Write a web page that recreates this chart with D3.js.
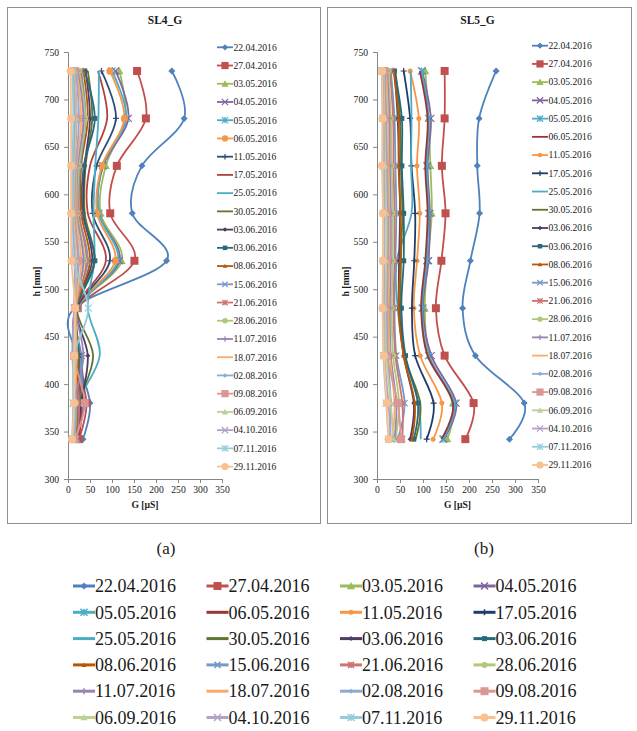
<!DOCTYPE html>
<html lang="en">
<head>
<meta charset="UTF-8">
<title>SL4_G / SL5_G</title>
<style>
  body { margin: 0; background: #fff; }
  svg text { font-family: "Liberation Serif", "DejaVu Serif", serif; fill: #1a1a1a; }
</style>
</head>
<body>
<script src="https://d3js.org/d3.v7.min.js"></script>
<script>
// heights of the measuring points [mm]
const heights = [730, 680, 630, 580, 530, 480, 430, 380, 342];

const dates = ['22.04.2016', '27.04.2016', '03.05.2016', '04.05.2016', '05.05.2016', '06.05.2016',
  '11.05.2016', '17.05.2016', '25.05.2016', '30.05.2016', '03.06.2016', '03.06.2016',
  '08.06.2016', '15.06.2016', '21.06.2016', '28.06.2016', '11.07.2016', '18.07.2016',
  '02.08.2016', '09.08.2016', '06.09.2016', '04.10.2016', '07.11.2016', '29.11.2016'];

// SL4 conductance G [µS], one row per date, values in order of heights
const sl4G = [
  [236, 264, 168, 146, 224, 14, 20, 50, 34],
  [157, 177, 111, 96, 151, 22, 20, 42, 25],
  [117, 130, 86, 74, 122, 20, 25, 30, 20],
  [108, 137, 80, 70, 117, 20, 30, 35, 22],
  [100, 132, 78, 70, 113, 22, 28, 32, 20],
  [95, 128, 77, 66, 107, 20, 22, 28, 18],
  [76, 109, 65, 56, 95, 20, 18, 25, 18],
  [68, 89, 50, 45, 86, 18, 20, 30, 25],
  [70, 69, 62, 58, 60, 45, 72, 22, 20],
  [45, 55, 40, 38, 60, 20, 57, 25, 22],
  [40, 50, 38, 35, 55, 18, 45, 30, 20],
  [38, 61, 36, 33, 61, 20, 25, 22, 18],
  [35, 45, 30, 30, 50, 18, 22, 22, 18],
  [30, 40, 28, 25, 45, 15, 15, 20, 15],
  [28, 38, 25, 25, 42, 18, 12, 25, 20],
  [25, 39, 25, 22, 37, 16, 15, 18, 15],
  [22, 35, 22, 20, 35, 18, 35, 15, 14],
  [20, 30, 20, 18, 30, 18, 20, 15, 12],
  [18, 25, 18, 15, 25, 14, 10, 18, 14],
  [15, 20, 15, 14, 22, 16, 14, 38, 15],
  [14, 18, 14, 12, 18, 16, 16, 14, 12],
  [12, 15, 12, 10, 15, 14, 14, 12, 10],
  [10, 12, 10, 9, 12, 46, 14, 12, 10],
  [6, 7, 7, 7, 8, 16, 14, 14, 9]
];

// SL5 conductance G [µS]
const sl5G = [
  [259, 222, 218, 223, 203, 186, 214, 320, 288],
  [147, 147, 141, 149, 140, 128, 147, 210, 192],
  [105, 112, 116, 119, 110, 104, 114, 165, 153],
  [98, 117, 110, 115, 112, 100, 118, 172, 145],
  [97, 112, 108, 112, 108, 98, 112, 168, 143],
  [93, 110, 105, 110, 105, 96, 110, 165, 140],
  [72, 91, 87, 93, 87, 80, 94, 141, 122],
  [58, 72, 75, 83, 81, 76, 83, 123, 108],
  [73, 75, 74, 75, 43, 45, 60, 90, 95],
  [40, 50, 52, 55, 52, 52, 60, 94, 84],
  [38, 45, 48, 50, 48, 48, 58, 80, 72],
  [38, 54, 54, 58, 58, 53, 62, 89, 80],
  [36, 47, 47, 51, 51, 47, 58, 82, 76],
  [30, 38, 40, 42, 40, 38, 42, 60, 45],
  [28, 35, 36, 38, 38, 36, 40, 55, 55],
  [25, 30, 32, 34, 34, 32, 35, 48, 40],
  [22, 27, 28, 30, 30, 28, 30, 42, 38],
  [20, 24, 25, 27, 27, 25, 28, 38, 34],
  [18, 20, 22, 24, 24, 22, 24, 30, 28],
  [16, 18, 20, 21, 22, 20, 22, 45, 52],
  [14, 16, 18, 20, 20, 18, 20, 30, 36],
  [12, 14, 15, 16, 16, 15, 16, 25, 30],
  [10, 12, 13, 14, 14, 13, 14, 20, 25],
  [11, 12, 11, 13, 13, 12, 15, 21, 25]
];

const xTicks = [0, 50, 100, 150, 200, 250, 300, 350];
const yTicks = [300, 350, 400, 450, 500, 550, 600, 650, 700, 750];

// series styles (Excel-like)
const colorsA = ['#4F81BD', '#C0504D', '#9BBB59', '#8064A2', '#4BACC6', '#F79646', '#2C4D75', '#B3423F',
  '#4BACC6', '#5F7530', '#4D3B62', '#276A7C', '#B65708', '#729ACA', '#CD7371', '#AFC97A',
  '#9983B5', '#F9AB6B', '#8EA9D6', '#D99694', '#BBD196', '#B3A2C7', '#93CDDD', '#FAC090'];
const colorsB = colorsA.slice();
colorsB[5] = '#953735'; colorsB[6] = '#F79646'; colorsB[7] = '#1F3D6B';

const markersA = ['diamond', 'square', 'triangle', 'x', 'star', 'circle', 'plus', 'none', 'none', 'none',
  'diamond', 'square', 'triangle', 'x', 'star', 'circle', 'plus', 'none',
  'diamond', 'square', 'triangle', 'x', 'star', 'circle'];
const markersB = markersA.slice();
markersB[5] = 'none'; markersB[6] = 'circle'; markersB[7] = 'plus';

const sizesA = [3.5, 4, 4, 3.5, 3.5, 3.5, 3, 0, 0, 0, 2.5, 2.5, 2.5, 3, 3, 3, 3, 0, 2.5, 4, 3.5, 3.5, 3.5, 4];
const sizesB = sizesA.slice();
sizesB[5] = 0; sizesB[6] = 2.5; sizesB[7] = 3;

const FONT = '"Liberation Serif", "DejaVu Serif", serif';
const W = 637, H = 731;
const svg = d3.select('body').append('svg').attr('width', W).attr('height', H)
  .attr('font-family', FONT);

function drawMarker(g, type, cx, cy, s, color, sw) {
  if (type === 'none' || s <= 0) return;
  const m = g.append('g').attr('transform', `translate(${cx},${cy})`);
  if (type === 'diamond') {
    m.append('path').attr('d', `M0,${-s}L${s},0L0,${s}L${-s},0Z`).attr('fill', color);
  } else if (type === 'square') {
    m.append('rect').attr('x', -s).attr('y', -s).attr('width', 2 * s).attr('height', 2 * s).attr('fill', color);
  } else if (type === 'triangle') {
    m.append('path').attr('d', `M0,${-s}L${s},${s * 0.8}L${-s},${s * 0.8}Z`).attr('fill', color);
  } else if (type === 'circle') {
    m.append('circle').attr('r', s).attr('fill', color);
  } else {
    let d = '';
    if (type === 'x' || type === 'star') d += `M${-s},${-s}L${s},${s}M${-s},${s}L${s},${-s}`;
    if (type === 'star') d += `M0,${-s}L0,${s}`;
    if (type === 'plus') d += `M${-s},0L${s},0M0,${-s}L0,${s}`;
    m.append('path').attr('d', d).attr('stroke', color).attr('stroke-width', sw || 1.2).attr('fill', 'none');
  }
}

function drawPanel(p) {
  const g = svg.append('g');
  g.append('rect').attr('x', p.frame[0] + 0.5).attr('y', p.frame[1] + 0.5)
    .attr('width', p.frame[2]).attr('height', p.frame[3])
    .attr('fill', '#fff').attr('stroke', '#8f8f8f').attr('stroke-width', 1);

  const x = d3.scaleLinear().domain([0, 350]).range([p.left, p.right]);
  const y = d3.scaleLinear().domain([300, 750]).range([p.bottom, p.top]);

  // axes
  const ax = g.append('g').attr('transform', `translate(0,${p.bottom})`)
    .call(d3.axisBottom(x).tickValues(xTicks).tickSize(4).tickPadding(3));
  const ay = g.append('g').attr('transform', `translate(${p.left},0)`)
    .call(d3.axisLeft(y).tickValues(yTicks).tickSize(4).tickPadding(5));
  [ax, ay].forEach(a => {
    a.attr('font-family', FONT);
    a.select('.domain').attr('stroke', '#868686');
    a.selectAll('.tick line').attr('stroke', '#868686');
    a.selectAll('.tick text').attr('font-size', 9.6).attr('fill', '#1a1a1a');
  });

  g.append('text').attr('x', (p.left + p.right) / 2 + 20).attr('y', 24)
    .attr('text-anchor', 'middle').attr('font-size', 11.5).attr('font-weight', 'bold').text(p.title);
  g.append('text').attr('x', (p.left + p.right) / 2).attr('y', p.bottom + 29)
    .attr('text-anchor', 'middle').attr('font-size', 9.6).attr('font-weight', 'bold').text('G [µS]');
  g.append('text').attr('transform', `translate(${p.left - 28},${(p.top + p.bottom) / 2 + 16}) rotate(-90)`)
    .attr('text-anchor', 'middle').attr('font-size', 9.6).attr('font-weight', 'bold').text('h [mm]');

  const line = d3.line().x(d => x(d[0])).y(d => y(d[1])).curve(d3.curveCardinal.tension(0));

  p.data.forEach((vals, i) => {
    const pts = vals.map((v, k) => [v, heights[k]]);
    const sg = g.append('g');
    sg.append('path').attr('d', line(pts)).attr('fill', 'none')
      .attr('stroke', p.colors[i]).attr('stroke-width', 1.8);
    pts.forEach(pt => drawMarker(sg, p.markers[i], x(pt[0]), y(pt[1]), p.sizes[i], p.colors[i]));
  });

  // legend inside panel
  const lg = g.append('g');
  dates.forEach((dt, i) => {
    const yy = p.legY + i * 18.23;
    lg.append('line').attr('x1', p.legX).attr('x2', p.legX + 16).attr('y1', yy).attr('y2', yy)
      .attr('stroke', p.colors[i]).attr('stroke-width', 1.8);
    drawMarker(lg, p.markers[i], p.legX + 8, yy, p.sizes[i] * 0.9, p.colors[i]);
    lg.append('text').attr('x', p.legX + 16.5).attr('y', yy + 3.3).attr('font-size', 9.6)
      .attr('fill', '#333').text(dt);
  });
}

drawPanel({ title: 'SL4_G', frame: [7, 7, 313, 516], left: 68, right: 222, top: 52, bottom: 479,
  data: sl4G, colors: colorsA, markers: markersA, sizes: sizesA, legX: 217, legY: 47.3 });
drawPanel({ title: 'SL5_G', frame: [327, 7, 304, 516], left: 377, right: 538, top: 52, bottom: 479,
  data: sl5G, colors: colorsB, markers: markersB, sizes: sizesB, legX: 532, legY: 45.7 });

svg.append('text').attr('x', 166).attr('y', 554).attr('text-anchor', 'middle').attr('font-size', 17).text('(a)');
svg.append('text').attr('x', 484).attr('y', 554).attr('text-anchor', 'middle').attr('font-size', 17).text('(b)');

// shared legend at the bottom
const bl = svg.append('g');
dates.forEach((dt, i) => {
  const col = i % 4, row = Math.floor(i / 4);
  const lx = 73 + col * 133.5, yy = 586 + row * 26.3;
  bl.append('line').attr('x1', lx).attr('x2', lx + 22).attr('y1', yy).attr('y2', yy)
    .attr('stroke', colorsB[i]).attr('stroke-width', 3);
  drawMarker(bl, markersB[i], lx + 11, yy, sizesB[i], colorsB[i], 1.5);
  bl.append('text').attr('x', lx + 22).attr('y', yy + 6.2).attr('font-size', 18).text(dt);
});
</script>
</body>
</html>
